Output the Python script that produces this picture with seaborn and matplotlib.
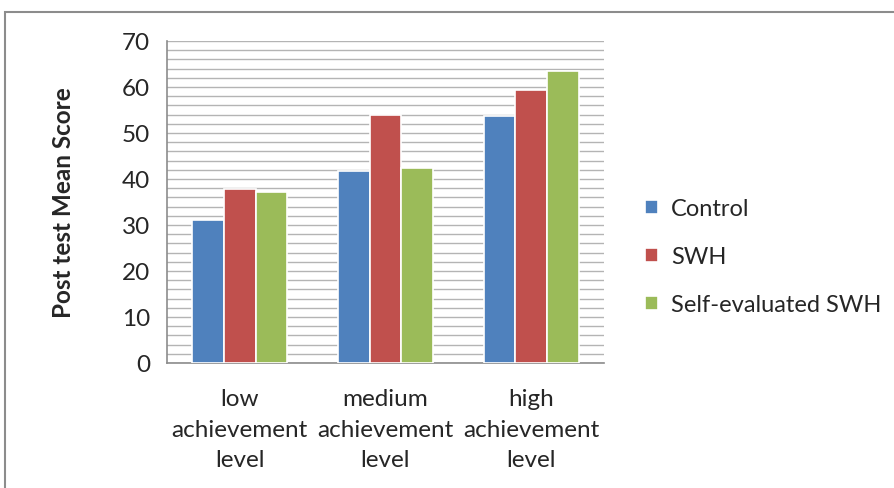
import matplotlib
matplotlib.use('Agg')
import matplotlib.pyplot as plt
from matplotlib.patches import Rectangle
from matplotlib.ticker import MultipleLocator, FixedLocator
import numpy as np
import pandas as pd
import seaborn as sns

# data
levels = ['low\nachievement\nlevel', 'medium\nachievement\nlevel', 'high\nachievement\nlevel']
groups = ['Control', 'SWH', 'Self-evaluated SWH']
control = [31.0, 41.7, 53.7]
swh = [37.9, 53.9, 59.3]
self_eval_swh = [37.1, 42.5, 63.5]
colors = ['#4F81BD', '#C0504D', '#9BBB59']

rows = []
for g, vals in zip(groups, [control, swh, self_eval_swh]):
    for lev, v in zip(levels, vals):
        rows.append({'level': lev, 'group': g, 'score': v})
df = pd.DataFrame(rows)

sns.set_style('white')
plt.rcParams['font.family'] = ['Lato', 'DejaVu Sans']

fig = plt.figure(figsize=(8.95, 4.89), dpi=100)
ax = fig.add_axes([167/895, 1 - 364/489, (604-167)/895, (364-42)/489])

sns.barplot(data=df, x='level', y='score', hue='group', palette=colors,
            saturation=1, width=0.65, edgecolor='white', linewidth=1.2,
            ax=ax, zorder=3)

## axes styling to look like the excel original
ax.set_ylim(0, 70)
ax.set_xlim(-0.5, 2.5)
ax.yaxis.set_major_locator(MultipleLocator(10))
ax.yaxis.set_minor_locator(MultipleLocator(2))
ax.grid(axis='y', which='both', color='#B4B4B4', linewidth=1, zorder=0)
ax.set_axisbelow(True)
for side in ['top', 'right']:
    ax.spines[side].set_visible(False)
for side in ['left', 'bottom']:
    ax.spines[side].set_color('#8C8C8C')
    ax.spines[side].set_linewidth(1.2)
ax.tick_params(axis='y', which='major', length=6, color='#8C8C8C', labelsize=17.5, pad=6)
ax.tick_params(axis='y', which='minor', length=0)
ax.xaxis.set_minor_locator(FixedLocator([-0.5, 0.5, 1.5, 2.5]))
ax.tick_params(axis='x', which='major', length=0, labelsize=17.5, pad=18)
ax.tick_params(axis='x', which='minor', length=6, color='#8C8C8C')
for lbl in ax.get_xticklabels():
    lbl.set_linespacing(1.56)
ax.set_xlabel('')
ax.set_ylabel('Post test Mean Score', fontsize=17.5, fontweight='bold', labelpad=34)

ax.legend(loc='center left', bbox_to_anchor=(1.045, 0.33), frameon=False,
          fontsize=17, handlelength=0.55, handleheight=0.55, handletextpad=0.55,
          labelspacing=1.15)

# outer chart frame
fig.patches.append(Rectangle((5.5/895, -0.1), 1.2, 1.1 - 13/489,
                             transform=fig.transFigure, fill=False,
                             edgecolor='#8C8C8C', linewidth=1.5))

fig.savefig('out.png', dpi=100)
